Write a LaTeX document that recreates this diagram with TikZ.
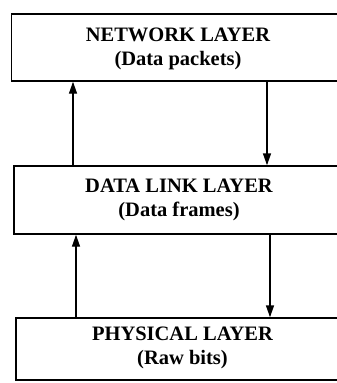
\documentclass[tikz,border=0pt]{standalone}
\usepackage{fontspec}
\setmainfont{Liberation Serif}
\usetikzlibrary{arrows.meta}
\begin{document}
\begin{tikzpicture}[x=1pt,y=-1pt,
  layerbox/.style={draw=black,line width=1.4pt,rectangle,inner sep=0pt},
  layertext/.style={align=center,inner sep=0pt,font=\bfseries\fontsize{20.5}{24}\selectfont},
  flow/.style={line width=1.4pt,-{Triangle[width=8pt,length=12pt]}}]
\useasboundingbox (0,0) rectangle (337,383);
\clip (0,0) rectangle (337,383);
\fill[white] (0,0) rectangle (337,383);
\node[layerbox,minimum width=368.5pt,minimum height=67pt] (net) at (195.75,47.5) {};
\node[layerbox,minimum width=366pt,minimum height=68pt] (dll) at (197,200) {};
\node[layerbox,minimum width=364pt,minimum height=62pt] (phy) at (198,349) {};
\node[layertext] (nett) at (178,49) {NETWORK LAYER\\(Data packets)};
\node[layertext] (dllt) at (179,200) {DATA LINK LAYER\\(Data frames)};
\node[layertext] (phyt) at (182.5,348) {PHYSICAL LAYER\\(Raw bits)};
\coordinate (a1) at (73,0);
\coordinate (a2) at (267,0);
\coordinate (a3) at (76,0);
\coordinate (a4) at (270,0);
\draw[flow] (a1 |- dll.north) -- (a1 |- net.south);
\draw[flow] (a2 |- net.south) -- (a2 |- dll.north);
\draw[flow] (a3 |- phy.north) -- (a3 |- dll.south);
\draw[flow] (a4 |- dll.south) -- (a4 |- phy.north);
\end{tikzpicture}
\end{document}
